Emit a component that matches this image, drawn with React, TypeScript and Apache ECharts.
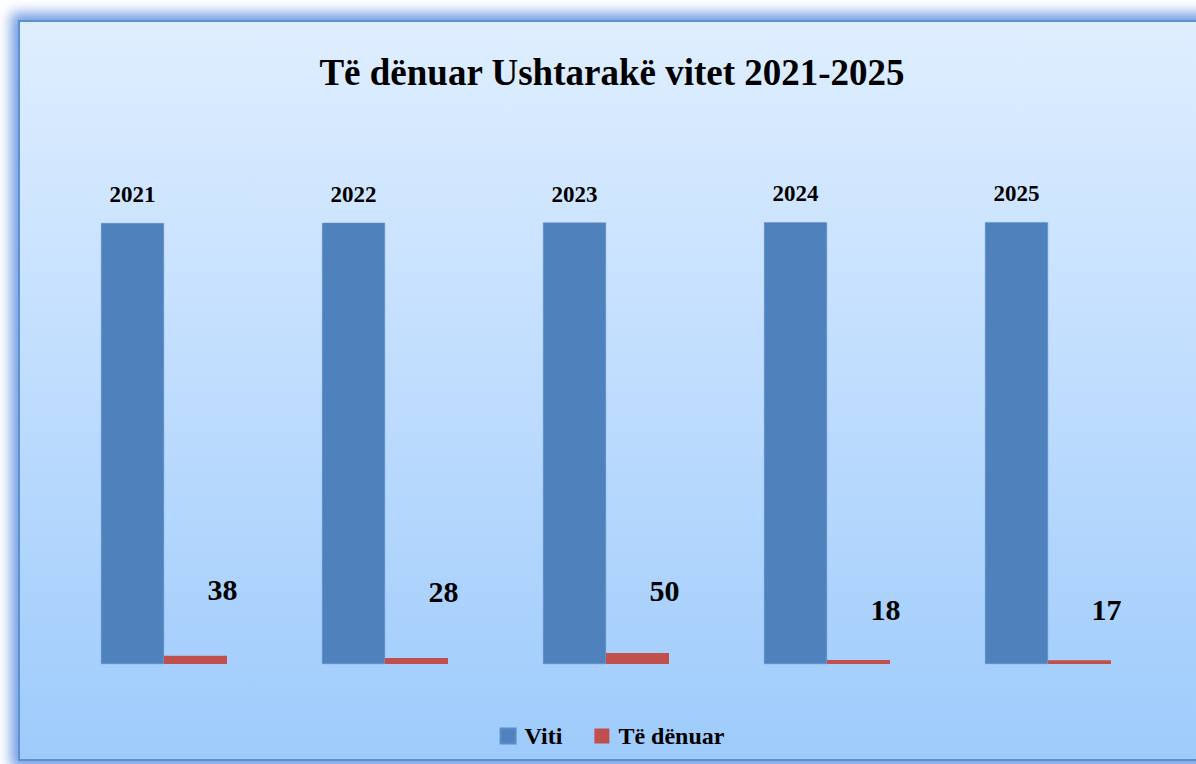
import React, { useEffect, useRef } from "react";
import * as echarts from "echarts";

const categories = ["2021", "2022", "2023", "2024", "2025"];
const vitiValues = [2021, 2022, 2023, 2024, 2025];
const denuarValues = [38, 28, 50, 18, 17];
const seriesNames = ["Viti", "Të dënuar"];
const titleText = "Të dënuar Ushtarakë vitet 2021-2025";

// label placement (manually positioned in the reference)
const denuarLabelOffsets = [
  [27, -46],
  [27, -46],
  [27, -43],
  [27, -31],
  [27, -31],
];

const FONT = "'Liberation Serif', 'Times New Roman', serif";

export default function App() {
  const ref = useRef<HTMLDivElement>(null);

  useEffect(() => {
    if (!ref.current) return;
    const chart = echarts.init(ref.current, undefined, { renderer: "svg" });
    chart.setOption({
      animation: false,
      backgroundColor: new echarts.graphic.LinearGradient(0, 0, 0, 1, [
        { offset: 0, color: "#dfeeff" },
        { offset: 1, color: "#9ecbfc" },
      ]),
      title: {
        text: titleText,
        left: "center",
        top: 27,
        textStyle: {
          fontFamily: FONT,
          fontWeight: "bold",
          fontSize: 37,
          color: "#000",
        },
      },
      legend: {
        data: seriesNames,
        left: "center",
        top: 697,
        itemWidth: 15,
        itemHeight: 15,
        itemGap: 32,
        icon: "rect",
        textStyle: {
          fontFamily: FONT,
          fontWeight: "bold",
          fontSize: 24,
          color: "#000",
          padding: [0, 0, 0, 4],
        },
      },
      grid: { left: 33.5, width: 1105, top: 96.5, height: 545.5 },
      xAxis: {
        type: "category",
        data: categories,
        axisLine: { show: false },
        axisTick: { show: false },
        axisLabel: { show: false },
      },
      yAxis: {
        type: "value",
        min: 0,
        max: 2500,
        show: false,
        splitLine: { show: false },
      },
      series: [
        {
          name: seriesNames[0],
          type: "bar",
          data: vitiValues,
          barWidth: 63,
          barGap: "0%",
          itemStyle: { color: "#4f81bd", borderColor: "#5a8cc8", borderWidth: 0.5 },
          label: {
            show: true,
            position: "top",
            distance: 17,
            fontFamily: FONT,
            fontWeight: "bold",
            fontSize: 23,
            color: "#000",
          },
        },
        {
          name: seriesNames[1],
          type: "bar",
          data: denuarValues.map((v, i) => ({
            value: v,
            label: { offset: denuarLabelOffsets[i] },
          })),
          barWidth: 63,
          itemStyle: { color: "#c0504d" },
          label: {
            show: true,
            position: "top",
            distance: 5,
            fontFamily: FONT,
            fontWeight: "bold",
            fontSize: 30,
            color: "#000",
          },
        },
      ],
    });
    return () => chart.dispose();
  }, []);

  return (
    <div
      style={{
        position: "fixed",
        left: 0,
        top: 0,
        width: 1196,
        height: 764,
        overflow: "hidden",
        background: "#ffffff",
      }}
    >
      <div
        style={{
          position: "absolute",
          left: 18,
          top: 20,
          width: 1184,
          height: 737,
          border: "2px solid #5b93d0",
          boxShadow: "0 0 12px 7px rgba(100,145,225,0.9)",
        }}
      >
        <div ref={ref} style={{ width: 1184, height: 737 }} />
      </div>
    </div>
  );
}
